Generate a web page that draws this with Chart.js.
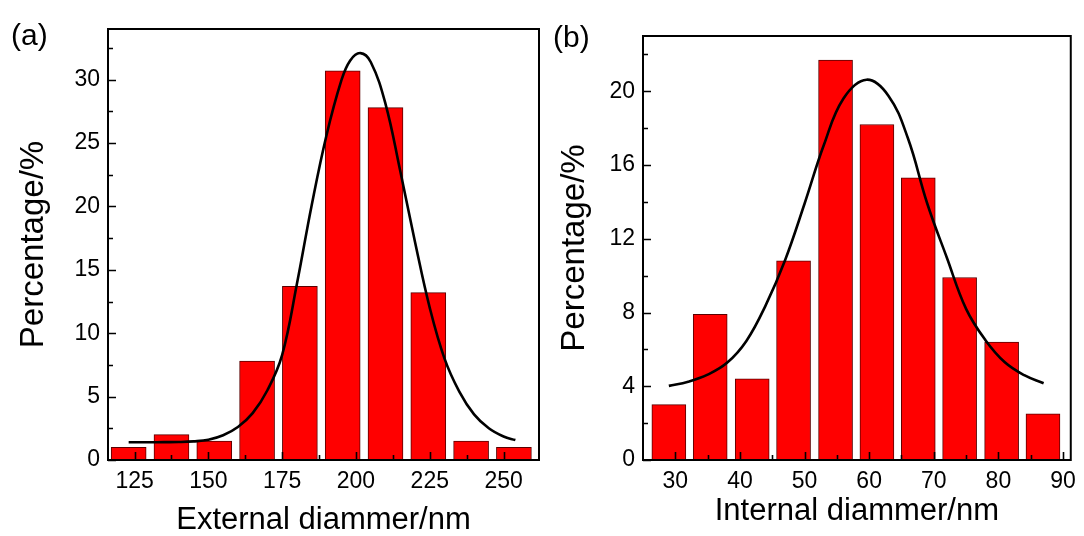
<!DOCTYPE html>
<html>
<head>
<meta charset="utf-8">
<script src="https://cdn.jsdelivr.net/npm/chart.js@4"></script>
<style>
  html, body { margin: 0; padding: 0; background: #fff; }
  #wrap { position: relative; width: 1084px; height: 536px; }
  canvas { position: absolute; top: 0; }
  #chartA { left: 0; }
  #chartB { left: 545px; }
</style>
</head>
<body>
<div id="wrap">
  <canvas id="chartA" width="560" height="536"></canvas>
  <canvas id="chartB" width="539" height="536"></canvas>
</div>
<script>
// (a) external diameter histogram
const extCenters = [123, 137.5, 152, 166.5, 181, 195.5, 210, 224.5, 239, 253.5];
const extPercent = [1.0, 2.0, 1.5, 7.8, 13.7, 30.7, 27.8, 13.2, 1.5, 1.0];
const extFitX = [123, 130, 135, 140, 145, 150, 155, 160, 165, 170, 175, 180, 185, 190, 195, 198, 201.5, 205, 210, 215, 220, 225, 230, 235, 240, 245, 250, 254];
const extFitY = [1.40, 1.40, 1.41, 1.42, 1.47, 1.60, 1.95, 2.6, 3.7, 5.5, 8.3, 13.9, 20.1, 25.6, 29.9, 31.5, 32.1, 31.4, 28.1, 22.8, 17.2, 12.0, 8.0, 5.4, 3.6, 2.5, 1.85, 1.57];
const extXTicks = [125, 150, 175, 200, 225, 250];
const extYTicks = [0, 5, 10, 15, 20, 25, 30];

// (b) internal diameter histogram
const intCenters = [29.0, 35.4, 41.9, 48.3, 54.8, 61.2, 67.6, 74.0, 80.5, 86.9];
const intPercent = [3.0, 7.9, 4.4, 10.8, 21.7, 18.2, 15.3, 9.9, 6.4, 2.5];
const intFitX = [29, 32, 35, 38, 41, 44, 47, 50, 53, 56, 59.6, 63, 66, 69, 72, 75, 78, 81, 84, 87];
const intFitY = [4.02, 4.25, 4.63, 5.27, 6.46, 8.4, 10.85, 13.9, 17.1, 19.6, 20.63, 19.75, 17.45, 13.9, 11.0, 8.2, 6.5, 5.3, 4.6, 4.16];
const intXTicks = [30, 40, 50, 60, 70, 80, 90];
const intYTicks = [0, 4, 8, 12, 16, 20];

const FONT = "'Liberation Sans', Arial, sans-serif";

// minor ticks halfway between majors (plus one beyond the ends if still inside)
function minorsOf(majors, min, max) {
    const step = majors[1] - majors[0];
    const out = [];
    for (let i = -1; i < majors.length; i++) {
        const v = (i < 0 ? majors[0] - step : majors[i]) + step / 2;
        if (v > min && v < max) out.push(v);
    }
    return out;
}

// frame box + inward ticks drawn on top of the bars
const framePlugin = {
    id: 'frame',
    afterDatasetsDraw(chart) {
        const { ctx, chartArea: a, scales: { x, y } } = chart;
        const o = chart.options.plugins.frame;
        ctx.save();
        ctx.strokeStyle = '#000';
        ctx.lineWidth = 1.6;
        ctx.beginPath();
        o.xMajor.forEach(v => { const p = Math.round(x.getPixelForValue(v)) + 0.5; ctx.moveTo(p, a.bottom); ctx.lineTo(p, a.bottom - 8); });
        minorsOf(o.xMajor, x.min, x.max).forEach(v => { const p = Math.round(x.getPixelForValue(v)) + 0.5; ctx.moveTo(p, a.bottom); ctx.lineTo(p, a.bottom - 5); });
        o.yMajor.forEach(v => { const p = Math.round(y.getPixelForValue(v)) + 0.5; ctx.moveTo(a.left, p); ctx.lineTo(a.left + 8, p); });
        minorsOf(o.yMajor, y.min, y.max).forEach(v => { const p = Math.round(y.getPixelForValue(v)) + 0.5; ctx.moveTo(a.left, p); ctx.lineTo(a.left + 5, p); });
        ctx.stroke();
        ctx.lineWidth = 2;
        ctx.strokeRect(a.left, a.top, a.right - a.left, a.bottom - a.top);
        // panel letter
        ctx.fillStyle = '#000';
        ctx.font = '30px ' + FONT;
        ctx.textBaseline = 'alphabetic';
        ctx.fillText(o.label, o.labelX, o.labelY);
        ctx.restore();
    }
};

function makeChart(id, cfg) {
    return new Chart(document.getElementById(id), {
        type: 'bar',
        data: {
            datasets: [
                {
                    type: 'line',
                    data: cfg.fitX.map((v, i) => ({ x: v, y: cfg.fitY[i] })),
                    borderColor: '#000',
                    borderWidth: 2.6,
                    pointRadius: 0,
                    tension: 0.4,
                    fill: false,
                    order: 0
                },
                {
                    type: 'bar',
                    data: cfg.centers.map((v, i) => ({ x: v, y: cfg.values[i] })),
                    backgroundColor: '#ff0000',
                    borderColor: '#5a0000',
                    borderWidth: 1,
                    borderSkipped: false,
                    barThickness: cfg.barWidth,
                    order: 1
                }
            ]
        },
        options: {
            responsive: false,
            animation: false,
            layout: { padding: cfg.padding },
            plugins: {
                legend: { display: false },
                tooltip: { enabled: false },
                frame: { xMajor: cfg.xTicks, yMajor: cfg.yTicks, label: cfg.label, labelX: cfg.labelX, labelY: cfg.labelY }
            },
            scales: {
                x: {
                    type: 'linear',
                    offset: false,
                    min: cfg.xMin,
                    max: cfg.xMax,
                    grid: { display: false, drawTicks: false },
                    border: { display: false },
                    afterBuildTicks: s => { s.ticks = cfg.xTicks.map(v => ({ value: v })); },
                    afterFit: s => { s.height = 76; },
                    ticks: { color: '#000', padding: 8, maxRotation: 0, autoSkip: false, font: { family: FONT, size: 23 } },
                    title: { display: true, text: cfg.xTitle, color: '#000', padding: { top: 0, bottom: cfg.xTitlePad }, font: { family: FONT, size: 31, lineHeight: 1 } }
                },
                y: {
                    type: 'linear',
                    min: 0,
                    max: cfg.yMax,
                    grid: { display: false, drawTicks: false },
                    border: { display: false },
                    afterBuildTicks: s => { s.ticks = cfg.yTicks.map(v => ({ value: v })); },
                    afterFit: s => { s.width = cfg.yWidth; },
                    ticks: { color: '#000', padding: 8, font: { family: FONT, size: 23 } },
                    title: { display: true, text: 'Percentage/%', color: '#000', padding: { top: cfg.yTitlePad, bottom: 0 }, font: { family: FONT, size: 33, lineHeight: 1 } }
                }
            }
        },
        plugins: [framePlugin]
    });
}

makeChart('chartA', {
    centers: extCenters, values: extPercent, fitX: extFitX, fitY: extFitY,
    xTicks: extXTicks, yTicks: extYTicks, xMin: 116, xMax: 262, yMax: 34,
    barWidth: 35, yWidth: 108, padding: { top: 29, right: 21, left: 0, bottom: 0 },
    xTitle: 'External diammer/nm', xTitlePad: 0, yTitlePad: 17,
    label: '(a)', labelX: 11, labelY: 45
});

makeChart('chartB', {
    centers: intCenters, values: intPercent, fitX: intFitX, fitY: intFitY,
    xTicks: intXTicks, yTicks: intYTicks, xMin: 25, xMax: 91.2, yMax: 23,
    barWidth: 34, yWidth: 98, padding: { top: 36, right: 11, left: 0, bottom: 0 },
    xTitle: 'Internal diammer/nm', xTitlePad: 9, yTitlePad: 13,
    label: '(b)', labelX: 8, labelY: 47
});
</script>
</body>
</html>
